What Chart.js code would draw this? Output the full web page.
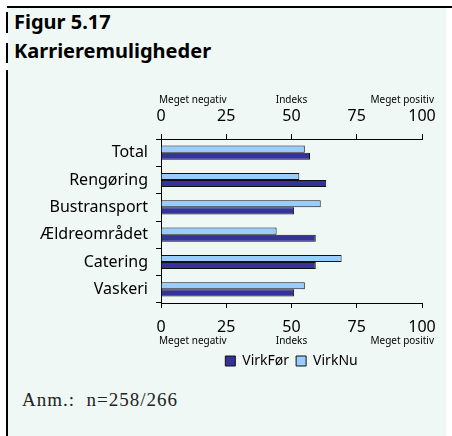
<!DOCTYPE html>
<html><head><meta charset="utf-8">
<script src="https://cdn.jsdelivr.net/npm/chart.js@4/dist/chart.umd.min.js"></script>
<style>
html,body{margin:0;padding:0;background:#fff;width:452px;height:436px;overflow:hidden;position:relative;}
#frame{position:absolute;left:8px;top:8px;width:438px;height:428px;background:#F0F8F5;}
#topline{position:absolute;left:7px;top:6px;width:445px;height:2px;background:#000;}
.seg{position:absolute;left:6px;width:2px;background:#000;}
.title{position:absolute;left:14px;font-family:'Noto Sans';font-weight:bold;font-size:20px;color:#000;line-height:24px;}
#note{position:absolute;left:22px;top:389px;font-family:'Liberation Serif';font-size:19px;letter-spacing:1px;color:#222;}
#c{position:absolute;left:0;top:80px;}
</style></head>
<body>
<div id="frame"></div>
<div id="topline"></div>
<div class="seg" style="top:12px;height:21px"></div>
<div class="seg" style="top:43px;height:20px"></div>
<div class="seg" style="top:70px;height:366px"></div>
<div class="title" style="top:10px">Figur 5.17</div>
<div class="title" style="top:39px">Karrieremuligheder</div>
<canvas id="c" width="452" height="304"></canvas>
<div id="note">Anm.:&nbsp; n=258/266</div>
<script>
const categories = ['Total','Rengøring','Bustransport','Ældreområdet','Catering','Vaskeri'];
const virkFoer = [57.1, 63.3, 51.0, 59.3, 59.3, 51.0];
const virkNu   = [55.1, 53.0, 61.2, 44.3, 69.2, 55.1];
const xTickValues = [0, 25, 50, 75, 100];
const axisLeftText = 'Meget negativ';
const axisMidText = 'Indeks';
const axisRightText = 'Meget positiv';

const FONT = 'Noto Sans';
const extraLabels = {
  id: 'extraLabels',
  afterDraw(chart) {
    const ctx = chart.ctx;
    ctx.save();
    ctx.font = '10px "' + FONT + '"';
    ctx.fillStyle = '#000';
    ctx.textBaseline = 'middle';
    [['x2', true], ['x', false]].forEach(([id, top]) => {
      const s = chart.scales[id];
      const y = top ? s.top + 14 + 6 : s.bottom - 6;
      ctx.textAlign = 'left';
      ctx.fillText(axisLeftText, s.getPixelForValue(0) - 2, y);
      ctx.textAlign = 'right';
      ctx.fillText(axisRightText, s.getPixelForValue(100) + 12, y);
    });
    ctx.restore();
  }
};

function xAxis(pos, h, tickPad, titlePad) {
  return {
    type: 'linear', position: pos, axis: 'x', min: 0, max: 100,
    afterBuildTicks(s) { s.ticks = xTickValues.map(v => ({ value: v })); },
    grid: { drawOnChartArea: false, drawTicks: true, tickLength: 5, color: '#000' },
    border: { display: true, color: '#000', width: 1 },
    ticks: { color: '#000', font: { family: FONT, size: 16 }, padding: tickPad, maxRotation: 0, autoSkip: false },
    title: { display: true, text: axisMidText, color: '#000', font: { family: FONT, size: 10 }, padding: titlePad },
    afterFit(s) { s.height = h; }
  };
}

new Chart(document.getElementById('c'), {
  type: 'bar',
  data: {
    labels: categories,
    datasets: [
      { label: 'VirkNu', data: virkNu, backgroundColor: '#99CCFF', borderColor: '#111', borderWidth: 1, categoryPercentage: 0.52, barPercentage: 1 },
      { label: 'VirkFør', data: virkFoer, backgroundColor: '#333399', borderColor: '#111', borderWidth: 1, categoryPercentage: 0.52, barPercentage: 1 }
    ]
  },
  options: {
    indexAxis: 'y',
    responsive: false,
    animation: false,
    layout: { padding: { left: 0, right: 30, top: 0, bottom: 6 } },
    scales: {
      y: {
        type: 'category', position: 'left', offset: true,
        grid: { offset: true, drawOnChartArea: false, drawTicks: true, tickLength: 5, color: '#000' },
        border: { display: true, color: '#000', width: 1 },
        ticks: { color: '#000', font: { family: FONT, size: 16 }, padding: 8 },
        afterFit(s) { s.width = 161; }
      },
      x: xAxis('bottom', 44, 10, { top: 0, bottom: 0 }),
      x2: xAxis('top', 59, 8, { top: 14, bottom: 0 })
    },
    plugins: {
      legend: {
        display: true, position: 'bottom', reverse: true, fullSize: false,
        labels: { boxWidth: 10, boxHeight: 10, padding: 7, color: '#000', font: { family: FONT, size: 14 } }
      },
      tooltip: { enabled: false }
    }
  },
  plugins: [extraLabels]
});
</script>
</body></html>
